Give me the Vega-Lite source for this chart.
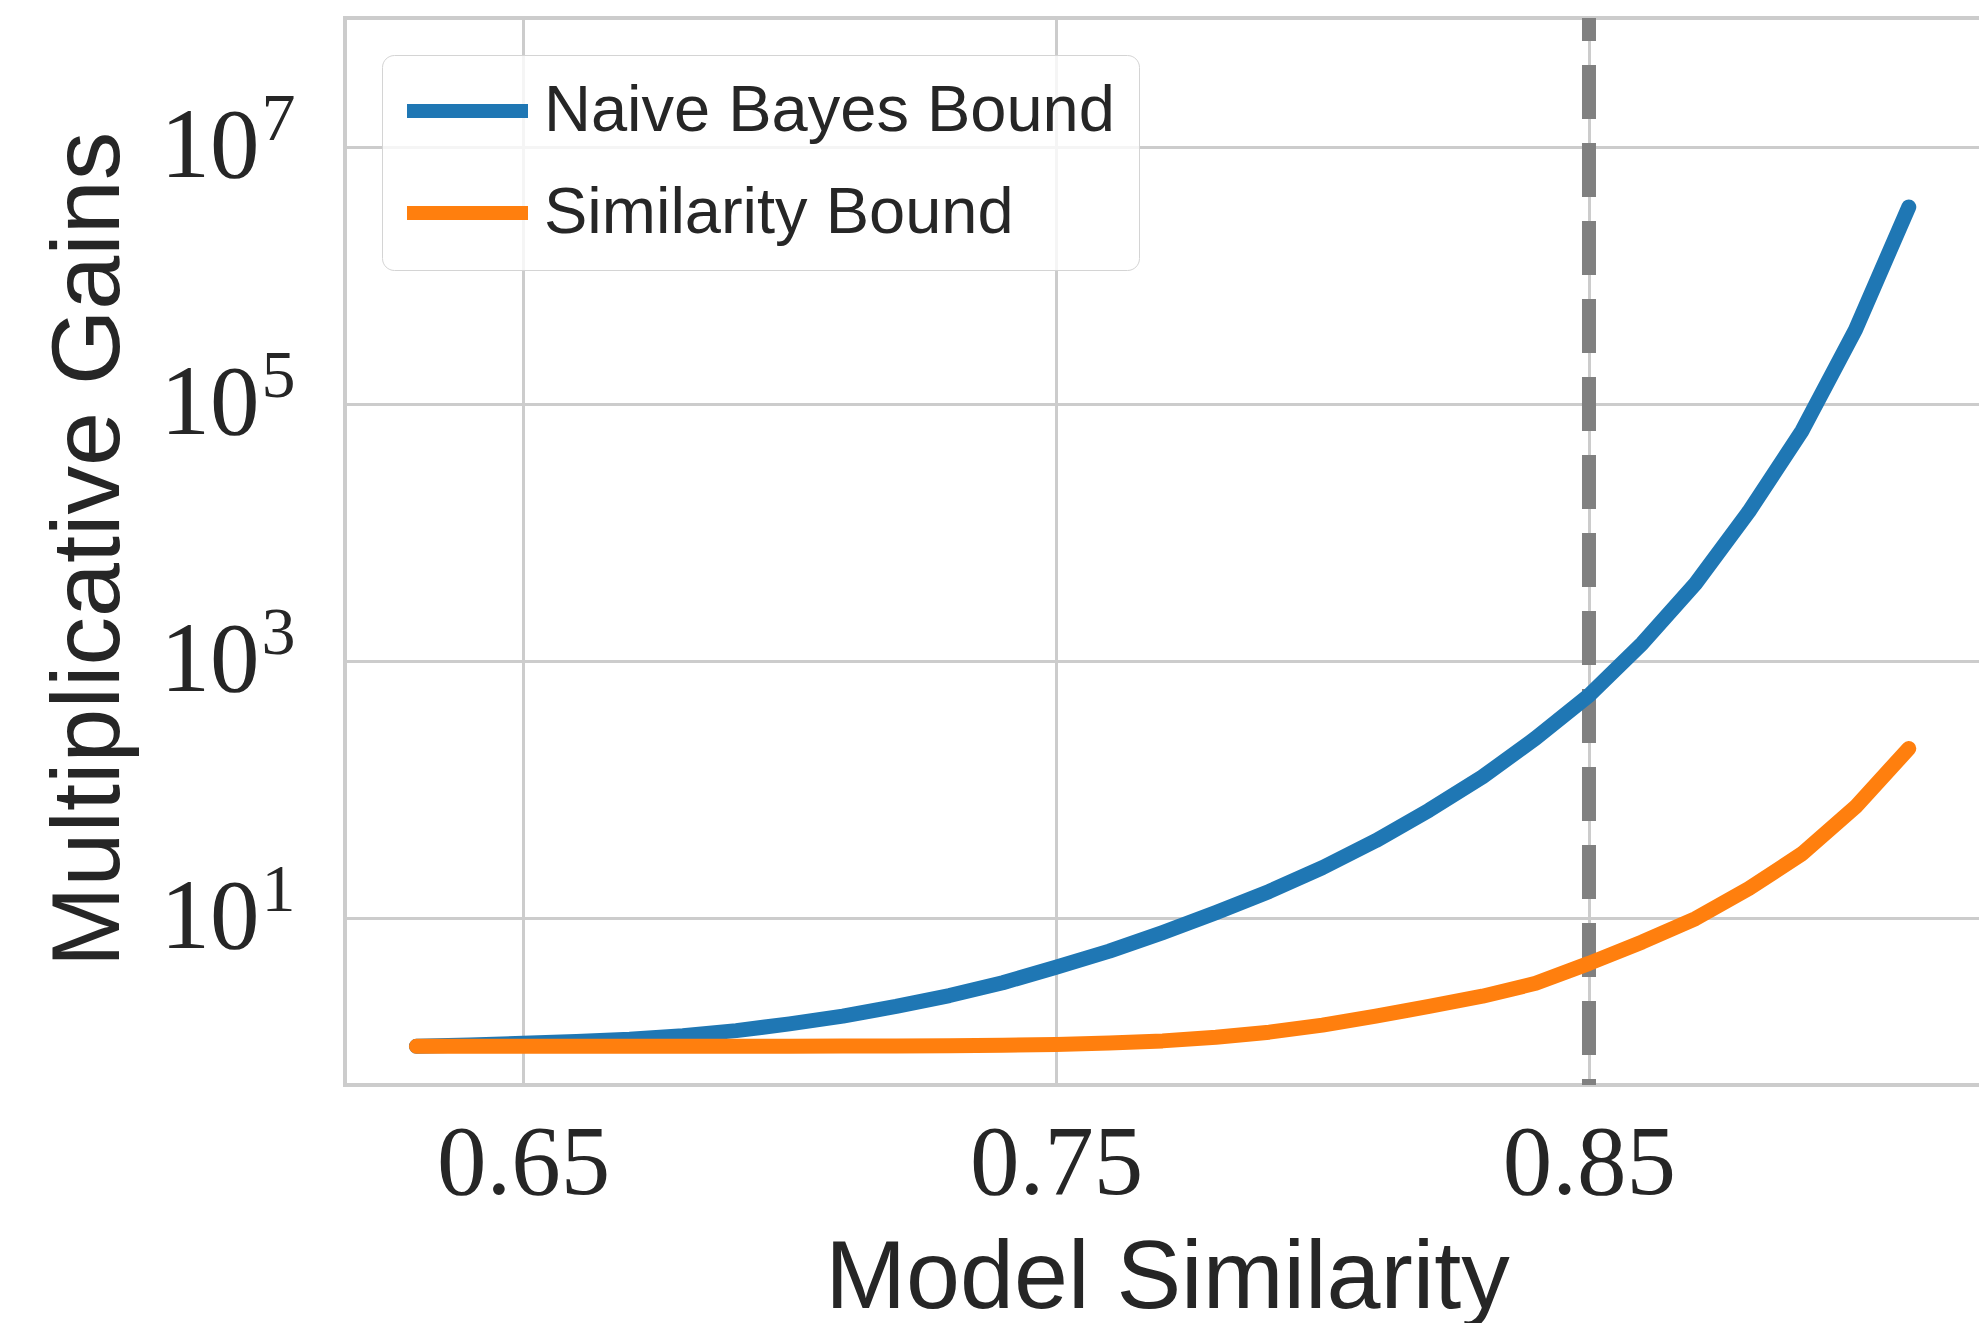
{
  "$schema": "https://vega.github.io/schema/vega-lite/v6.json",
  "autosize": "none",
  "width": 1640,
  "height": 1067,
  "padding": {"left": 345, "top": 18, "right": 0, "bottom": 238},
  "background": "white",
  "config": {
    "view": {"stroke": "#cccccc", "strokeWidth": 4},
    "axis": {"labelColor": "#262626", "titleColor": "#262626"}
  },
  "datasets": {
    "curves": [
      {"s": 0.63, "bound": "Naive Bayes Bound", "gain": 1.0},
      {"s": 0.64, "bound": "Naive Bayes Bound", "gain": 1.023},
      {"s": 0.65, "bound": "Naive Bayes Bound", "gain": 1.057},
      {"s": 0.66, "bound": "Naive Bayes Bound", "gain": 1.089},
      {"s": 0.67, "bound": "Naive Bayes Bound", "gain": 1.135},
      {"s": 0.68, "bound": "Naive Bayes Bound", "gain": 1.211},
      {"s": 0.69, "bound": "Naive Bayes Bound", "gain": 1.324},
      {"s": 0.70, "bound": "Naive Bayes Bound", "gain": 1.493},
      {"s": 0.71, "bound": "Naive Bayes Bound", "gain": 1.718},
      {"s": 0.72, "bound": "Naive Bayes Bound", "gain": 2.042},
      {"s": 0.73, "bound": "Naive Bayes Bound", "gain": 2.483},
      {"s": 0.74, "bound": "Naive Bayes Bound", "gain": 3.126},
      {"s": 0.75, "bound": "Naive Bayes Bound", "gain": 4.121},
      {"s": 0.76, "bound": "Naive Bayes Bound", "gain": 5.495},
      {"s": 0.77, "bound": "Naive Bayes Bound", "gain": 7.674},
      {"s": 0.78, "bound": "Naive Bayes Bound", "gain": 10.96},
      {"s": 0.79, "bound": "Naive Bayes Bound", "gain": 16.03},
      {"s": 0.80, "bound": "Naive Bayes Bound", "gain": 24.55},
      {"s": 0.81, "bound": "Naive Bayes Bound", "gain": 39.81},
      {"s": 0.82, "bound": "Naive Bayes Bound", "gain": 68.71},
      {"s": 0.83, "bound": "Naive Bayes Bound", "gain": 124.7},
      {"s": 0.84, "bound": "Naive Bayes Bound", "gain": 249.5},
      {"s": 0.85, "bound": "Naive Bayes Bound", "gain": 537},
      {"s": 0.86, "bound": "Naive Bayes Bound", "gain": 1365},
      {"s": 0.87, "bound": "Naive Bayes Bound", "gain": 3981},
      {"s": 0.88, "bound": "Naive Bayes Bound", "gain": 14454},
      {"s": 0.89, "bound": "Naive Bayes Bound", "gain": 61660},
      {"s": 0.90, "bound": "Naive Bayes Bound", "gain": 375837},
      {"s": 0.91, "bound": "Naive Bayes Bound", "gain": 3388442},
      {"s": 0.63, "bound": "Similarity Bound", "gain": 1.0},
      {"s": 0.64, "bound": "Similarity Bound", "gain": 1.0},
      {"s": 0.65, "bound": "Similarity Bound", "gain": 1.0},
      {"s": 0.66, "bound": "Similarity Bound", "gain": 1.0},
      {"s": 0.67, "bound": "Similarity Bound", "gain": 1.0},
      {"s": 0.68, "bound": "Similarity Bound", "gain": 1.001},
      {"s": 0.69, "bound": "Similarity Bound", "gain": 1.002},
      {"s": 0.70, "bound": "Similarity Bound", "gain": 1.003},
      {"s": 0.71, "bound": "Similarity Bound", "gain": 1.005},
      {"s": 0.72, "bound": "Similarity Bound", "gain": 1.007},
      {"s": 0.73, "bound": "Similarity Bound", "gain": 1.011},
      {"s": 0.74, "bound": "Similarity Bound", "gain": 1.019},
      {"s": 0.75, "bound": "Similarity Bound", "gain": 1.033},
      {"s": 0.76, "bound": "Similarity Bound", "gain": 1.062},
      {"s": 0.77, "bound": "Similarity Bound", "gain": 1.102},
      {"s": 0.78, "bound": "Similarity Bound", "gain": 1.175},
      {"s": 0.79, "bound": "Similarity Bound", "gain": 1.288},
      {"s": 0.80, "bound": "Similarity Bound", "gain": 1.462},
      {"s": 0.81, "bound": "Similarity Bound", "gain": 1.718},
      {"s": 0.82, "bound": "Similarity Bound", "gain": 2.042},
      {"s": 0.83, "bound": "Similarity Bound", "gain": 2.455},
      {"s": 0.84, "bound": "Similarity Bound", "gain": 3.09},
      {"s": 0.85, "bound": "Similarity Bound", "gain": 4.416},
      {"s": 0.86, "bound": "Similarity Bound", "gain": 6.486},
      {"s": 0.87, "bound": "Similarity Bound", "gain": 9.863},
      {"s": 0.88, "bound": "Similarity Bound", "gain": 16.87},
      {"s": 0.89, "bound": "Similarity Bound", "gain": 31.55},
      {"s": 0.90, "bound": "Similarity Bound", "gain": 72.78},
      {"s": 0.91, "bound": "Similarity Bound", "gain": 207.5}
    ],
    "threshold": [{"s": 0.85}]
  },
  "layer": [
    {
      "data": {"name": "threshold"},
      "mark": {"type": "rule", "color": "#808080", "strokeWidth": 14, "strokeDash": [54, 24], "strokeDashOffset": 31},
      "encoding": {
        "x": {"field": "s", "type": "quantitative", "scale": {"domain": [0.6166, 0.9243], "nice": false, "zero": false}}
      }
    },
    {
      "data": {"name": "curves"},
      "mark": {"type": "line", "strokeWidth": 15, "strokeCap": "round", "strokeJoin": "round"},
      "encoding": {
        "x": {
          "field": "s", "type": "quantitative",
          "scale": {"domain": [0.6166, 0.9243], "nice": false, "zero": false},
          "axis": {
            "values": [0.65, 0.75, 0.85], "format": ".2f",
            "labelFont": "Liberation Serif", "labelFontSize": 99, "labelPadding": 30,
            "labelFlush": false, "labelOverlap": false,
            "ticks": false, "domain": false,
            "grid": true, "gridColor": "#cccccc", "gridWidth": 3,
            "title": "Model Similarity", "titleFont": "Liberation Sans", "titleFontSize": 97,
            "titleFontWeight": "normal", "titleBaseline": "alphabetic", "titleAlign": "center",
            "titleX": 822, "titleY": 222
          }
        },
        "y": {
          "field": "gain", "type": "quantitative",
          "scale": {"type": "log", "domain": [0.5, 100000000], "nice": false},
          "axis": {
            "orient": "left",
            "values": [10, 1000, 100000, 10000000],
            "labelExpr": "'10'",
            "labelFont": "Liberation Serif", "labelFontSize": 99, "labelAlign": "right",
            "labelBaseline": "middle", "labelPadding": 86, "labelOverlap": false, "labelFlush": false,
            "ticks": false, "domain": false,
            "grid": true, "gridColor": "#cccccc", "gridWidth": 3,
            "title": "Multiplicative Gains", "titleFont": "Liberation Sans", "titleFontSize": 97,
            "titleFontWeight": "normal", "titleBaseline": "alphabetic", "titleAlign": "center",
            "titleAngle": -90, "titleX": -227, "titleY": 531
          }
        },
        "color": {
          "field": "bound", "type": "nominal",
          "scale": {"domain": ["Naive Bayes Bound", "Similarity Bound"], "range": ["#1f77b4", "#ff7f0e"]},
          "legend": {
            "title": null, "orient": "none", "legendX": 37, "legendY": 37,
            "symbolType": "stroke", "symbolSize": 14641, "symbolStrokeWidth": 14,
            "symbolOffset": -6,
            "clipHeight": 64,
            "labelFont": "Liberation Sans", "labelFontSize": 65, "labelColor": "#262626",
            "labelOffset": 9, "rowPadding": 37, "padding": 24,
            "strokeColor": "#d4d4d4", "fillColor": "rgba(255,255,255,0.8)", "cornerRadius": 12,
            "labelLimit": 1000
          }
        }
      }
    },
    {
      "data": {"name": "curves"},
      "mark": {"type": "line", "opacity": 0, "strokeWidth": 0},
      "encoding": {
        "x": {"field": "s", "type": "quantitative"},
        "y": {
          "field": "gain", "type": "quantitative",
          "axis": {
            "orient": "left",
            "values": [10, 1000, 100000, 10000000],
            "labelExpr": "format(log(datum.value) / LN10, '.0f')",
            "labelFont": "Liberation Serif", "labelFontSize": 68, "labelAlign": "left",
            "labelBaseline": "middle", "labelPadding": 84, "labelOffset": -27,
            "labelOverlap": false, "labelFlush": false,
            "ticks": false, "domain": false, "grid": false, "title": null
          }
        },
        "detail": {"field": "bound", "type": "nominal"}
      }
    }
  ],
  "resolve": {"axis": {"y": "independent"}}
}
